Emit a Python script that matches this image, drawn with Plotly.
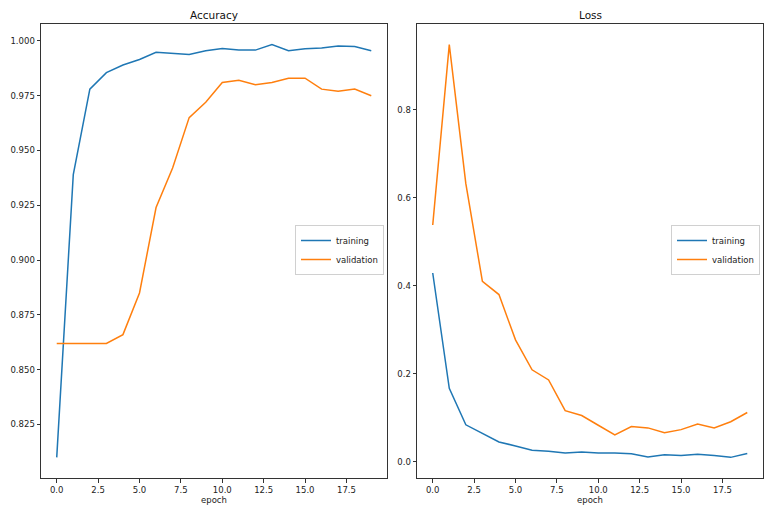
import plotly.graph_objects as go

epochs = list(range(20))
acc_train = [0.810, 0.939, 0.978, 0.9855, 0.989, 0.9915, 0.9948, 0.9944, 0.9938, 0.9955,
             0.9965, 0.9958, 0.9958, 0.9983, 0.9955, 0.9964, 0.9968, 0.9977, 0.9974, 0.9955]
acc_val = [0.862, 0.862, 0.862, 0.862, 0.866, 0.885, 0.924, 0.942, 0.965, 0.972,
           0.981, 0.982, 0.980, 0.981, 0.983, 0.983, 0.978, 0.977, 0.978, 0.975]
loss_train = [0.429, 0.167, 0.084, 0.065, 0.045, 0.036, 0.026, 0.024, 0.020, 0.022,
              0.020, 0.020, 0.018, 0.011, 0.016, 0.014, 0.017, 0.014, 0.010, 0.019]
loss_val = [0.538, 0.948, 0.632, 0.410, 0.380, 0.277, 0.209, 0.186, 0.116, 0.105,
            0.083, 0.061, 0.080, 0.077, 0.066, 0.073, 0.086, 0.077, 0.091, 0.112]

acc_ticks = [0.825, 0.850, 0.875, 0.900, 0.925, 0.950, 0.975, 1.000]
loss_ticks = [0.0, 0.2, 0.4, 0.6, 0.8]
x_ticks = [0.0, 2.5, 5.0, 7.5, 10.0, 12.5, 15.0, 17.5]

BLUE = "#1f77b4"
ORANGE = "#ff7f0e"
FONT = "DejaVu Sans"

fig = go.Figure()
fig.add_trace(go.Scatter(x=epochs, y=acc_train, mode="lines", name="training",
                         line=dict(color=BLUE, width=1.5), xaxis="x", yaxis="y", legend="legend"))
fig.add_trace(go.Scatter(x=epochs, y=acc_val, mode="lines", name="validation",
                         line=dict(color=ORANGE, width=1.5), xaxis="x", yaxis="y", legend="legend"))
fig.add_trace(go.Scatter(x=epochs, y=loss_train, mode="lines", name="training",
                         line=dict(color=BLUE, width=1.5), xaxis="x2", yaxis="y2", legend="legend2"))
fig.add_trace(go.Scatter(x=epochs, y=loss_val, mode="lines", name="validation",
                         line=dict(color=ORANGE, width=1.5), xaxis="x2", yaxis="y2", legend="legend2"))

def amin_max(vals):
    lo = min(vals); hi = max(vals); m = (hi - lo) * 0.05
    return [lo - m, hi + m]

xr = [-0.95, 19.95]
ax_common = dict(showline=True, mirror=True, linecolor="#333333", linewidth=1,
                 ticks="outside", ticklen=3.5, tickcolor="#333333", tickwidth=1,
                 showgrid=False, zeroline=False, automargin=False,
                 tickfont=dict(family=FONT, size=8.5, color="#222222"))

W, H = 773, 516
ydom = [1 - 478 / H, 1 - 24 / H]
leg_common = dict(bgcolor="rgba(255,255,255,0.8)", bordercolor="#d0d0d0", borderwidth=1,
                  font=dict(family=FONT, size=8.5, color="#222222"), tracegroupgap=0,
                  itemwidth=30, y=1 - 250 / H, yanchor="middle", xanchor="right")
fig.update_layout(
    template="none",
    width=W, height=H, margin=dict(l=0, r=0, t=0, b=0),
    paper_bgcolor="white", plot_bgcolor="white",
    font=dict(family=FONT, size=8.5, color="#222222"),
    xaxis=dict(domain=[41 / W, 387 / W], range=xr, tickvals=x_ticks,
               ticktext=[f"{v:.1f}" for v in x_ticks], anchor="y", **ax_common),
    yaxis=dict(domain=ydom, range=amin_max(acc_train + acc_val), tickvals=acc_ticks,
               ticktext=[f"{v:.3f}" for v in acc_ticks], anchor="x", **ax_common),
    xaxis2=dict(domain=[417 / W, 763 / W], range=xr, tickvals=x_ticks,
                ticktext=[f"{v:.1f}" for v in x_ticks], anchor="y2", **ax_common),
    yaxis2=dict(domain=ydom, range=amin_max(loss_train + loss_val), tickvals=loss_ticks,
                ticktext=[f"{v:.1f}" for v in loss_ticks], anchor="x2", **ax_common),
    legend=dict(x=384 / W, **leg_common),
    legend2=dict(x=760 / W, **leg_common),
    annotations=[
        dict(text="Accuracy", x=214 / W, y=1 - 15 / H, xref="paper", yref="paper",
             showarrow=False, xanchor="center", yanchor="middle",
             font=dict(family=FONT, size=10.5, color="#111111")),
        dict(text="Loss", x=590 / W, y=1 - 15 / H, xref="paper", yref="paper",
             showarrow=False, xanchor="center", yanchor="middle",
             font=dict(family=FONT, size=10.5, color="#111111")),
        dict(text="epoch", x=214 / W, y=1 - 500 / H, xref="paper", yref="paper",
             showarrow=False, xanchor="center", yanchor="middle",
             font=dict(family=FONT, size=8.5, color="#222222")),
        dict(text="epoch", x=590 / W, y=1 - 500 / H, xref="paper", yref="paper",
             showarrow=False, xanchor="center", yanchor="middle",
             font=dict(family=FONT, size=8.5, color="#222222")),
    ],
)

fig.write_html("out.html", config={"displayModeBar": False},
               post_script="document.body.style.margin='0';document.body.style.overflow='hidden';")
